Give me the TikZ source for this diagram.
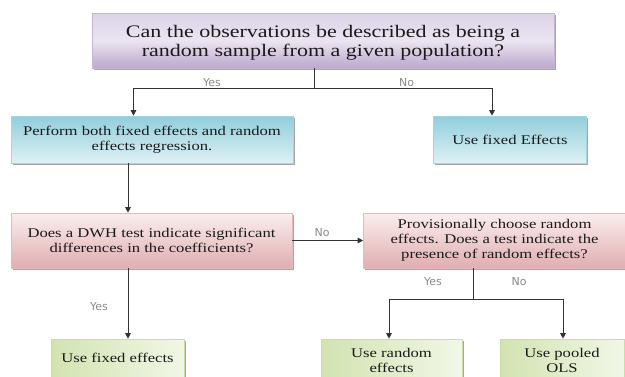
\documentclass[tikz,border=0pt]{standalone}
\usepackage{fontspec}
\setmainfont{Liberation Serif}
\newfontfamily\boxfont[FakeStretch=1.25]{Liberation Serif}
\newfontfamily\lblfont{DejaVu Sans}
\usetikzlibrary{arrows.meta,shadows}
\definecolor{purT}{HTML}{DDD3E8}
\definecolor{purB}{HTML}{BBA8CC}
\definecolor{purD}{HTML}{C6B6D6}
\definecolor{cyT}{HTML}{90CEDB}
\definecolor{cyB}{HTML}{DFF1F5}
\definecolor{cyD}{HTML}{A5D6E0}
\definecolor{pkT}{HTML}{FBEEEE}
\definecolor{pkB}{HTML}{E0AEB0}
\definecolor{pkD}{HTML}{E6BABC}
\definecolor{grL}{HTML}{D2E3B0}
\definecolor{grR}{HTML}{F1F7E7}
\definecolor{grD}{HTML}{C9DCA9}
\definecolor{lineC}{HTML}{333333}
\definecolor{lblC}{HTML}{8A8A8A}
\definecolor{txtC}{HTML}{1A1A1A}
\tikzset{
  basebox/.style={rectangle, inner sep=0pt, align=center, text=txtC,
    drop shadow={shadow xshift=1.5pt, shadow yshift=-1.5pt, opacity=0.35, fill=black},
    line width=0.6pt},
  bigtxt/.style={font=\boxfont\fontsize{17.6}{18.5}\selectfont},
  smtxt/.style={font=\boxfont\fontsize{13.3}{15}\selectfont},
  purbox/.style={basebox, draw=purD, top color=purT, bottom color=purB, middle color=purT!60!white},
  cybox/.style={basebox, smtxt, draw=cyD, top color=cyT, bottom color=cyB},
  pkbox/.style={basebox, smtxt, draw=pkD, top color=pkT, bottom color=pkB},
  grbox/.style={basebox, smtxt, draw=grD, left color=grL, right color=grR},
  plaintxt/.style={inner sep=0pt, align=center, text=txtC},
  conn/.style={draw=lineC, line width=0.9pt},
  arr/.style={conn, -{Triangle[width=5.5pt,length=5.5pt]}},
  lbl/.style={font=\lblfont\fontsize{11}{13}\selectfont, text=lblC, inner sep=0pt}
}
\begin{document}
\begin{tikzpicture}[x=1pt,y=-1pt]
\useasboundingbox (0,0) rectangle (625,376);
\clip (0,0) rectangle (625,376);

\node[purbox, minimum width=462pt, minimum height=55pt] (top) at (323,40.5) {};
\node[plaintxt, bigtxt] (toptxt) at ([yshift=-2.2pt]top.center)
  {Can the observations be described as being a\\random sample from a given population?};
\node[cybox, minimum width=282pt, minimum height=47pt] (b2) at (152,139.5)
  {Perform both fixed effects and random\\effects regression.};
\node[cybox, minimum width=153pt, minimum height=47pt] (b3) at (510,139.5)
  {Use fixed Effects};
\node[pkbox, minimum width=281pt, minimum height=55pt] (b4) at (151.5,240.5)
  {Does a DWH test indicate significant\\differences in the coefficients?};
\node[pkbox, minimum width=262pt, minimum height=55pt] (b5) at (494.5,240.5)
  {Provisionally choose random\\effects. Does a test indicate the\\presence of random effects?};
\node[grbox, minimum width=133pt, minimum height=38pt] (b6) at (117.5,358)
  {Use fixed effects};
\node[grbox, minimum width=141pt, minimum height=42pt] (b7) at (391.5,360)
  {Use random\\effects};
\node[grbox, minimum width=124pt, minimum height=42pt] (b8) at (562,360)
  {Use pooled\\OLS};

\coordinate (s1) at (314.5,88);
\coordinate (s1l) at (133.5,88);
\coordinate (s1r) at (492,88);
\coordinate (c1) at (128,0);
\coordinate (s2) at (473,299);
\coordinate (s2l) at (389,299);
\coordinate (s2r) at (563,299);

\draw[conn] (top.south -| s1) -- (s1);
\draw[arr] (s1) -- (s1l) -- (s1l |- b2.north);
\draw[arr] (s1) -- (s1r) -- (s1r |- b3.north);
\draw[arr] (b2.south -| c1) -- (b4.north -| c1);
\draw[arr] (b4.south -| c1) -- (b6.north -| c1);
\draw[arr] (b4.east) -- (b5.west);
\draw[conn] (b5.south -| s2) -- (s2);
\draw[arr] (s2) -- (s2l) -- (s2l |- b7.north);
\draw[arr] (s2) -- (s2r) -- (s2r |- b8.north);

\node[lbl] (l1) at (212,83) {Yes};
\node[lbl] (l2) at (406.5,83) {No};
\node[lbl] (l3) at (322,233) {No};
\node[lbl] (l4) at (99,307) {Yes};
\node[lbl] (l5) at (433,282) {Yes};
\node[lbl] (l6) at (519,282) {No};
\end{tikzpicture}
\end{document}
